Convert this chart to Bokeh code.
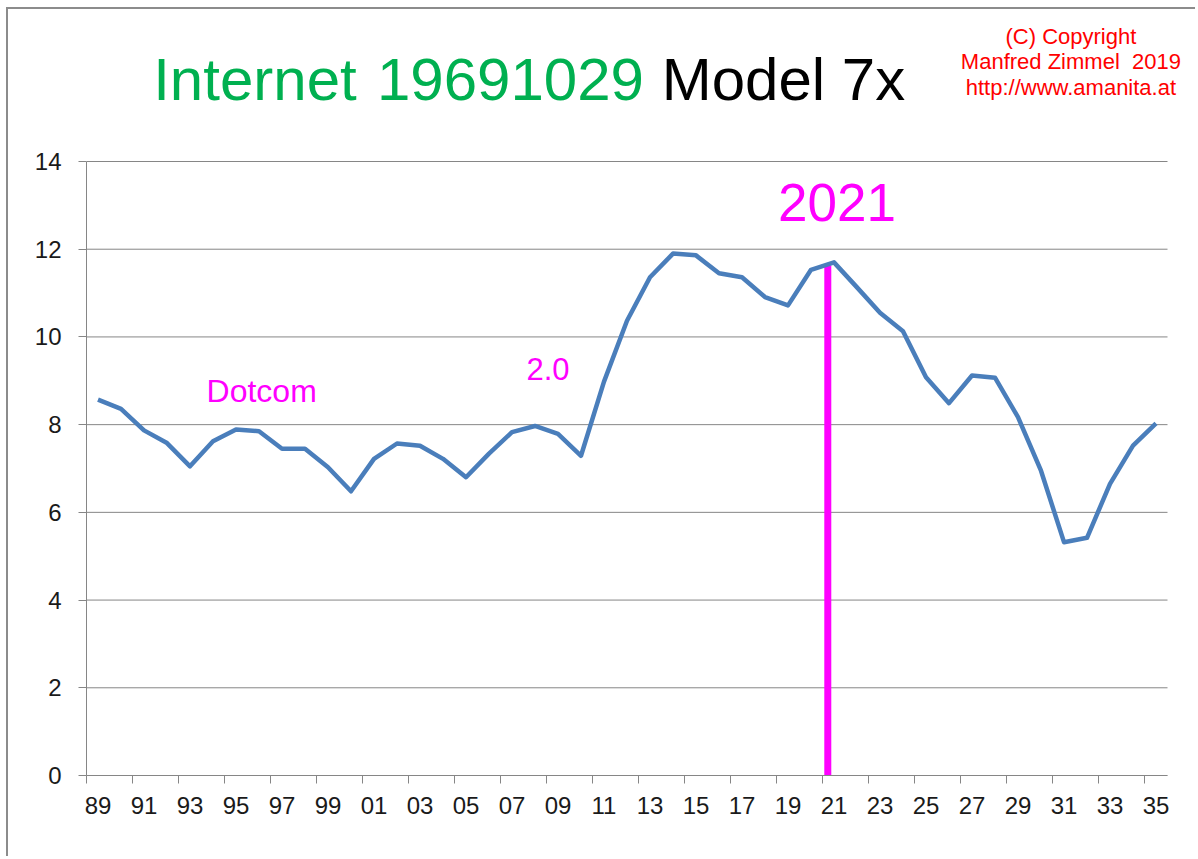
from bokeh.plotting import figure
from bokeh.models import FixedTicker, Label
from bokeh.embed import file_html
from bokeh.resources import INLINE

# ---- data ----
years = list(range(1989, 2036))
values = [8.57, 8.36, 7.87, 7.58, 7.05, 7.62, 7.89, 7.85, 7.45, 7.45,
          7.03, 6.48, 7.22, 7.57, 7.52, 7.22, 6.80, 7.34, 7.83, 7.97,
          7.79, 7.29, 8.98, 10.37, 11.36, 11.90, 11.86, 11.45, 11.36, 10.91,
          10.72, 11.53, 11.70, 11.13, 10.55, 10.13, 9.08, 8.49, 9.12, 9.07,
          8.17, 6.95, 5.32, 5.42, 6.65, 7.52, 8.03]
tick_years = years[::2]
tick_labels = ["89", "91", "93", "95", "97", "99", "01", "03", "05", "07", "09",
               "11", "13", "15", "17", "19", "21", "23", "25", "27", "29", "31",
               "33", "35"]
y_ticks = [0, 2, 4, 6, 8, 10, 12, 14]
marker_x = [2020.73]
marker_top = [11.63]

GRID = "#868686"
FONT = "Liberation Sans"
NARROW = "Liberation Sans Narrow, Liberation Sans"

x_lo = years[0] - 0.5
x_hi = years[-1] + 0.5
px_per_year = 23.0
px_per_unit = 614 / 14.0
frame_w = 1189 - 78
frame_h = 849 - 83

p = figure(width=1189, height=849,
           x_range=(x_lo, x_lo + frame_w / px_per_year),
           y_range=(0, frame_h / px_per_unit),
           output_backend="svg", toolbar_location=None,
           min_border_left=78, min_border_right=0, min_border_top=0,
           min_border_bottom=83)
p.outline_line_color = None
p.background_fill_color = "white"
p.border_fill_color = "white"
p.styles = {"margin-left": "6px", "margin-top": "7px",
            "border-left": "2px solid #8c8c8c", "border-top": "2px solid #8c8c8c"}

# x axis
p.xaxis.bounds = (x_lo, x_hi)
p.xaxis.ticker = FixedTicker(ticks=tick_years,
                             minor_ticks=[y - 0.5 for y in tick_years])
p.xaxis.major_label_overrides = {y: l for y, l in zip(tick_years, tick_labels)}
p.xaxis.major_tick_line_color = None
p.xaxis.major_tick_out = 0
p.xaxis.major_tick_in = 0
p.xaxis.minor_tick_line_color = GRID
p.xaxis.minor_tick_out = 8
p.xaxis.minor_tick_in = 0
p.xaxis.axis_line_color = GRID
p.xaxis.major_label_standoff = 13
p.xaxis.major_label_text_font = NARROW
p.xaxis.major_label_text_font_size = "24px"
p.xaxis.major_label_text_color = "#1a1a1a"

# y axis
p.yaxis.bounds = (y_ticks[0], y_ticks[-1])
p.yaxis.ticker = FixedTicker(ticks=y_ticks)
p.yaxis.minor_tick_line_color = None
p.yaxis.major_tick_line_color = GRID
p.yaxis.major_tick_out = 8
p.yaxis.major_tick_in = 0
p.yaxis.axis_line_color = GRID
p.yaxis.major_label_standoff = 17
p.yaxis.major_label_text_font = NARROW
p.yaxis.major_label_text_font_size = "24px"
p.yaxis.major_label_text_color = "#1a1a1a"

p.xgrid.visible = False
p.ygrid.visible = False
# horizontal gridlines limited to the category span
p.segment(x0=[x_lo] * len(y_ticks), y0=y_ticks, x1=[x_hi] * len(y_ticks),
          y1=y_ticks, line_color=GRID, line_width=1)

# marker bar for 2021
p.segment(x0=marker_x, y0=[0], x1=marker_x, y1=marker_top,
          line_color="#FF00FF", line_width=7)

# main series
p.line(years, values, line_color="#4A7EBB", line_width=4.5, line_join="round")

def lab(x, y, text, size, color, align="left", font=FONT):
    # y is the wanted baseline; compensate for the renderer's baseline offset
    y_adj = y + 0.38 * size / px_per_unit
    p.add_layout(Label(x=x, y=y_adj, text=text, text_font_size=f"{size}px",
                       text_color=color, text_align=align,
                       text_baseline="alphabetic", text_font=font))

# annotations in the plot
lab(2021.13, 12.61, "2021", 53, "#FF00FF", "center")
lab(1993.72, 8.50, "Dotcom", 32, "#FF00FF")
lab(2007.63, 8.99, "2.0", 31, "#FF00FF")

# title
lab(1991.40, 15.35, "Internet", 60, "#00B050")
lab(2001.13, 15.35, "19691029", 60, "#00B050")
lab(2013.51, 15.35, "Model 7x", 60, "#000000")

# copyright block
lab(2031.30, 16.66, "(C) Copyright", 22, "#FF0000", "center")
lab(2031.30, 16.08, "Manfred Zimmel\u00a0\u00a02019", 22, "#FF0000", "center")
lab(2031.30, 15.50, "http://www.amanita.at", 22, "#FF0000", "center")

open("out.html", "w").write(file_html(p, INLINE))
